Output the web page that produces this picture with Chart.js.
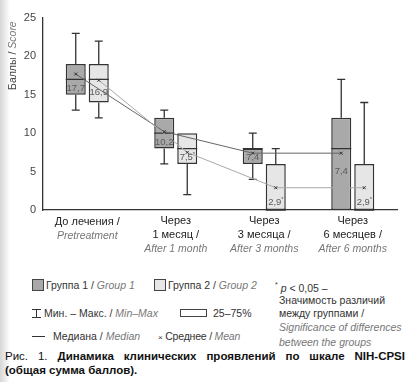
<!DOCTYPE html>
<html>
<head>
<meta charset="utf-8">
<script src="https://cdn.jsdelivr.net/npm/chart.js@4.4.1/dist/chart.umd.min.js"></script>
<style>
  body { margin: 0; background: #fff; width: 409px; height: 382px; overflow: hidden; position: relative;
         font-family: "Liberation Sans Narrow", "Liberation Sans", Arial, sans-serif; color: #333; }
  #edge { position: absolute; left: 0; top: 0; width: 10px; height: 382px; background: linear-gradient(to right, #d6d6d6, #fff); }
  #wrap { position: absolute; left: 0; top: 0; width: 409px; height: 258px; }
  .t { position: absolute; font-size: 10.5px; line-height: 14px; white-space: nowrap; }
  .t i { color: #777; }
  .sq { position: absolute; width: 10px; height: 10px; border: 1px solid #444; }
  #cap { position: absolute; left: 5px; top: 349px; width: 400px; font-family: "Liberation Sans", Arial, sans-serif;
         font-size: 11.5px; line-height: 14px; color: #111; }
  #cap .l1 { text-align: justify; text-align-last: justify; }
</style>
</head>
<body>
<div id="edge"></div>
<div id="wrap"><canvas id="myChart" width="409" height="258"></canvas></div>

<div class="sq" style="left:32px;top:279px;background:#a9a9a9"></div>
<div class="t" style="left:46px;top:278px">Группа 1 / <i>Group 1</i></div>
<div class="sq" style="left:154px;top:279px;background:#e6e6e6"></div>
<div class="t" style="left:168px;top:278px">Группа 2 / <i>Group 2</i></div>
<div class="t" style="left:275px;top:278px"><sup style="font-size:7px">*</sup> <i style="color:#333">p</i> &lt; 0,05 –</div>
<div class="t" style="left:279px;top:293px">Значимость различий</div>
<div class="t" style="left:279px;top:306px">между группами /</div>
<div class="t" style="left:279px;top:320px"><i>Significance of differences</i></div>
<div class="t" style="left:279px;top:335px"><i>between the groups</i></div>

<div style="position:absolute;left:32px;top:309px;width:9px;height:7px;border-top:1px solid #333;border-bottom:1px solid #333"></div>
<div style="position:absolute;left:36px;top:309px;width:1px;height:8px;background:#333"></div>
<div class="t" style="left:44px;top:306px">Мин. – Макс. / <i>Min–Max</i></div>
<div style="position:absolute;left:180px;top:309px;width:25px;height:6px;border:1px solid #444"></div>
<div class="t" style="left:213px;top:306px">25–75%</div>

<div style="position:absolute;left:32px;top:336px;width:13px;height:1px;background:#333"></div>
<div class="t" style="left:53px;top:329px">Медиана / <i>Median</i></div>
<div class="t" style="left:158px;top:329px;letter-spacing:-0.2px"><span style="font-size:8px">×</span> Среднее / <i>Mean</i></div>

<div id="cap"><div class="l1">Рис. 1. <b>Динамика клинических проявлений по шкале NIH-CPSI</b></div><b>(общая сумма баллов).</b></div>

<script>
const FONT = '"Liberation Sans Narrow", "Liberation Sans", Arial, sans-serif';

// x categories: russian lines + english (italic) line
const xLabels = [
    ["До лечения /", "Pretreatment"],
    ["Через", "1 месяц /", "After 1 month"],
    ["Через", "3 месяца /", "After 3 months"],
    ["Через", "6 месяцев /", "After 6 months"]
];
const yTicks = [0, 5, 10, 15, 20, 25];

// Group 1
const g1Min = [13, 6, 4, 0];
const g1Q1 = [15, 8, 6, 0];
const g1Median = [17, 10, 8, 8];
const g1Q3 = [19, 12, 8, 12];
const g1Max = [23, 13, 10, 17];
const g1Mean = [17.7, 10.2, 7.4, 7.4];
const g1Star = [false, false, false, false];

// Group 2
const g2Min = [12, 2, 0, 0];
const g2Q1 = [14, 6, 0, 0];
const g2Median = [17, 8, 0, 0];
const g2Q3 = [19, 10, 6, 6];
const g2Max = [22, 10, 8, 14];
const g2Mean = [16.9, 7.5, 2.9, 2.9];
const g2Star = [false, true, true, true];

const groups = [
    { min: g1Min, q1: g1Q1, med: g1Median, q3: g1Q3, max: g1Max, mean: g1Mean, star: g1Star, fill: '#a9a9a9', line: '#666' },
    { min: g2Min, q1: g2Q1, med: g2Median, q3: g2Q3, max: g2Max, mean: g2Mean, star: g2Star, fill: '#e6e6e6', line: '#a8a8a8' }
];

const boxExtras = {
    id: 'boxExtras',
    afterDatasetsDraw(chart) {
        const ctx = chart.ctx;
        const y = chart.scales.y;
        ctx.save();
        groups.forEach((g, d) => {
            const bars = chart.getDatasetMeta(d).data;
            // whiskers + median
            bars.forEach((bar, i) => {
                const x = bar.x, hw = bar.width / 2;
                ctx.strokeStyle = '#333';
                ctx.lineWidth = 1.3;
                ctx.beginPath();
                if (g.max[i] > g.q3[i]) {
                    ctx.moveTo(x, y.getPixelForValue(g.q3[i]));
                    ctx.lineTo(x, y.getPixelForValue(g.max[i]));
                    ctx.moveTo(x - 4, y.getPixelForValue(g.max[i]));
                    ctx.lineTo(x + 4, y.getPixelForValue(g.max[i]));
                }
                if (g.min[i] < g.q1[i]) {
                    ctx.moveTo(x, y.getPixelForValue(g.q1[i]));
                    ctx.lineTo(x, y.getPixelForValue(g.min[i]));
                    ctx.moveTo(x - 4, y.getPixelForValue(g.min[i]));
                    ctx.lineTo(x + 4, y.getPixelForValue(g.min[i]));
                }
                ctx.moveTo(x - hw, y.getPixelForValue(g.med[i]));
                ctx.lineTo(x + hw, y.getPixelForValue(g.med[i]));
                ctx.stroke();
            });
        });
        // mean lines
        groups.forEach((g, d) => {
            const bars = chart.getDatasetMeta(d).data;
            ctx.strokeStyle = g.line;
            ctx.lineWidth = 1;
            ctx.beginPath();
            bars.forEach((bar, i) => {
                const py = y.getPixelForValue(g.mean[i]);
                if (i === 0) ctx.moveTo(bar.x, py); else ctx.lineTo(bar.x, py);
            });
            ctx.stroke();
        });
        // mean markers + value labels
        groups.forEach((g, d) => {
            const bars = chart.getDatasetMeta(d).data;
            bars.forEach((bar, i) => {
                const x = bar.x, py = y.getPixelForValue(g.mean[i]);
                ctx.strokeStyle = '#333';
                ctx.lineWidth = 1;
                ctx.beginPath();
                ctx.moveTo(x - 1.5, py - 1.5); ctx.lineTo(x + 1.5, py + 1.5);
                ctx.moveTo(x + 1.5, py - 1.5); ctx.lineTo(x - 1.5, py + 1.5);
                ctx.stroke();

                const ym = y.getPixelForValue(g.med[i]);
                const yq1 = y.getPixelForValue(g.q1[i]);
                let ly = yq1 - ym > 4 ? Math.min((ym + yq1) / 2 + 1, ym + 23) : yq1 - 8;
                const txt = g.mean[i].toFixed(1).replace('.', ',');
                ctx.fillStyle = '#5a5a5a';
                ctx.font = '9.5px ' + FONT;
                ctx.textBaseline = 'middle';
                ctx.textAlign = 'center';
                const w = ctx.measureText(txt).width;
                if (g.star[i]) {
                    ctx.fillText(txt, x - 1, ly);
                    ctx.font = '6px ' + FONT;
                    ctx.textAlign = 'left';
                    ctx.fillText('*', x - 1 + w / 2, ly - 3);
                } else {
                    ctx.fillText(txt, x, ly);
                }
            });
        });
        ctx.restore();
    },
    afterDraw(chart) {
        const ctx = chart.ctx;
        const xs = chart.scales.x;
        const area = chart.chartArea;
        ctx.save();
        ctx.textAlign = 'center';
        ctx.textBaseline = 'middle';
        xLabels.forEach((lines, i) => {
            const cx = xs.getPixelForTick(i);
            lines.forEach((s, k) => {
                const last = k === lines.length - 1;
                ctx.font = (last ? 'italic 10.5px ' : '11px ') + FONT;
                ctx.fillStyle = last ? '#777' : '#222';
                ctx.fillText(s, cx, area.bottom + (lines.length === 2 ? 12 : 10.5) + k * 14.5);
            });
        });
        // y title
        ctx.translate(13, area.top + 72);
        ctx.rotate(-Math.PI / 2);
        ctx.textAlign = 'left';
        ctx.font = '10.5px ' + FONT;
        ctx.fillStyle = '#444';
        const a = 'Баллы / ';
        ctx.fillText(a, 0, 0);
        const w = ctx.measureText(a).width;
        ctx.font = 'italic 10.5px ' + FONT;
        ctx.fillStyle = '#777';
        ctx.fillText('Score', w, 0);
        ctx.restore();
    }
};

const ctx = document.getElementById('myChart').getContext('2d');

const myChart = new Chart(ctx, {
    type: 'bar',
    data: {
        labels: xLabels.map(l => l.join(' ')),
        datasets: groups.map(g => ({
            data: g.q1.map((v, i) => [v, g.q3[i]]),
            backgroundColor: g.fill,
            borderColor: '#333',
            borderWidth: 1.5,
            borderSkipped: false,
            categoryPercentage: 0.52,
            barPercentage: 0.87
        }))
    },
    options: {
        responsive: false,
        animation: false,
        layout: { padding: { top: 18, right: 12, left: 0, bottom: 0 } },
        plugins: { legend: { display: false }, tooltip: { enabled: false } },
        scales: {
            x: {
                grid: { display: false, drawTicks: false },
                border: { color: '#333', width: 1.3 },
                ticks: { display: false },
                afterFit: s => { s.height = 48; }
            },
            y: {
                min: 0,
                max: 25,
                afterBuildTicks: s => { s.ticks = yTicks.map(v => ({ value: v })); },
                grid: { display: false, drawTicks: false },
                border: { color: '#333', width: 1.3 },
                ticks: { color: '#444', padding: 7, font: { family: FONT, size: 11 } },
                afterFit: s => { s.width = 43; }
            }
        }
    },
    plugins: [boxExtras]
});
</script>
</body>
</html>
